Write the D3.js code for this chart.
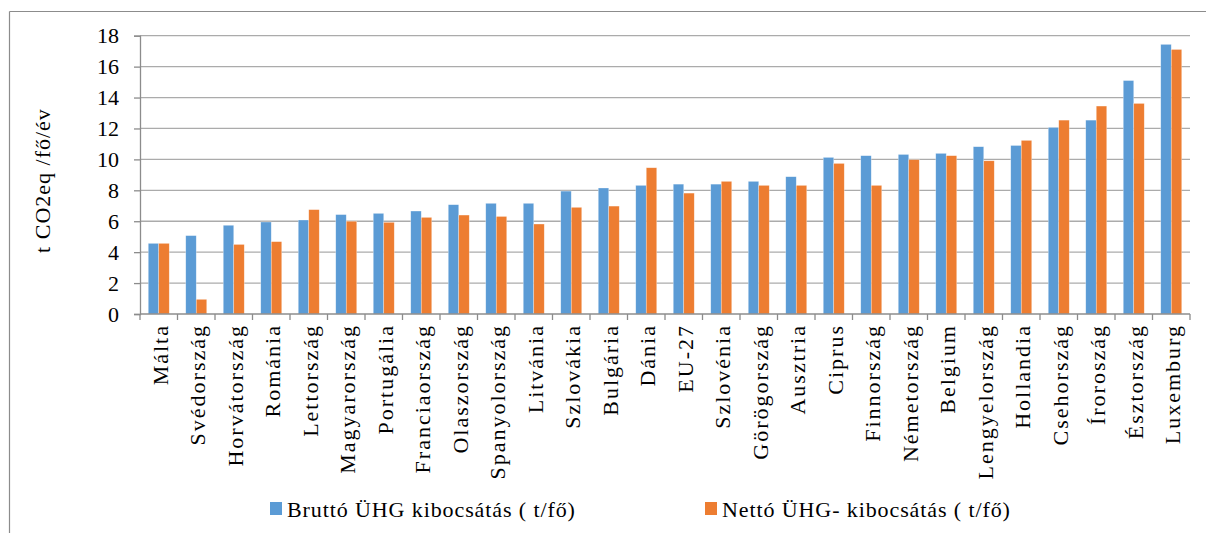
<!DOCTYPE html>
<html>
<head>
<meta charset="utf-8">
<script src="https://cdn.jsdelivr.net/npm/d3@7"></script>
<style>
  body { margin: 0; background: #fff; }
</style>
</head>
<body>
<div class="chart"></div>
<script>
// Values
const categories = ["Málta", "Svédország", "Horvátország", "Románia", "Lettország", "Magyarország",
  "Portugália", "Franciaország", "Olaszország", "Spanyolország", "Litvánia", "Szlovákia", "Bulgária",
  "Dánia", "EU-27", "Szlovénia", "Görögország", "Ausztria", "Ciprus", "Finnország", "Németország",
  "Belgium", "Lengyelország", "Hollandia", "Csehország", "Íroroszág", "Észtország", "Luxemburg"];
const brutto = [4.57, 5.07, 5.74, 5.95, 6.08, 6.43, 6.51, 6.66, 7.07, 7.16, 7.16, 7.95, 8.15,
  8.32, 8.4, 8.4, 8.58, 8.88, 10.13, 10.24, 10.32, 10.39, 10.82, 10.9, 12.07, 12.54, 15.1, 17.44];
const netto = [4.57, 0.95, 4.5, 4.68, 6.75, 6.0, 5.93, 6.25, 6.4, 6.31, 5.82, 6.9, 6.98,
  9.46, 7.82, 8.58, 8.32, 8.32, 9.74, 8.32, 9.98, 10.24, 9.91, 11.23, 12.54, 13.45, 13.62, 17.11];
const seriesNames = ["Bruttó ÜHG kibocsátás ( t/fő)", "Nettó ÜHG- kibocsátás ( t/fő)"];
const seriesColors = ["#5B9BD5", "#ED7D31"];
const yTicks = [0, 2, 4, 6, 8, 10, 12, 14, 16, 18];

const width = 1206, height = 533;
const margin = { left: 140, right: 16, top: 35.7, bottom: 219 };

const svg = d3.select(".chart").append("svg")
  .attr("width", width)
  .attr("height", height)
  .attr("font-family", "Liberation Serif");

// frame of the pasted chart (only left and top visible)
svg.append("line").attr("x1", 9.5).attr("x2", width).attr("y1", 11.5).attr("y2", 11.5)
  .attr("stroke", "#8c8c8c").attr("stroke-width", 1.2);
svg.append("line").attr("x1", 9.5).attr("x2", 9.5).attr("y1", 11.5).attr("y2", height)
  .attr("stroke", "#8c8c8c").attr("stroke-width", 1.2);

const x0 = d3.scaleBand()
  .domain(categories)
  .range([margin.left, width - margin.right])
  .paddingInner(0.44)
  .paddingOuter(0.22);

const x1 = d3.scaleBand()
  .domain([0, 1])
  .range([0, x0.bandwidth()]);

const y = d3.scaleLinear()
  .domain([0, 18])
  .range([height - margin.bottom, margin.top]);

// gridlines
svg.append("g")
  .selectAll("line")
  .data(yTicks.filter(d => d > 0))
  .join("line")
    .attr("x1", margin.left)
    .attr("x2", width - margin.right)
    .attr("y1", d => y(d))
    .attr("y2", d => y(d))
    .attr("stroke", "#ababab")
    .attr("stroke-width", 1.3);

// y axis
const yAxis = svg.append("g")
  .attr("transform", `translate(${margin.left},0)`)
  .call(d3.axisLeft(y).tickValues(yTicks).tickSize(6).tickPadding(15).tickFormat(d3.format("d")))
  .attr("font-family", "Liberation Serif")
  .attr("font-size", 22);
yAxis.select(".domain").attr("stroke", "#8c8c8c").attr("stroke-width", 1.3);
yAxis.selectAll(".tick line").attr("stroke", "#8c8c8c").attr("stroke-width", 1.3);
yAxis.selectAll(".tick text")
  .attr("fill", "#000")
  .attr("dy", "0.33em");

// bars
const groups = svg.append("g")
  .selectAll("g")
  .data(categories)
  .join("g")
    .attr("transform", d => `translate(${x0(d)},0)`);

groups.selectAll("rect")
  .data((d, i) => [brutto[i], netto[i]])
  .join("rect")
    .attr("x", (d, j) => x1(j))
    .attr("y", d => y(d))
    .attr("width", x1.bandwidth())
    .attr("height", d => y(0) - y(d))
    .attr("fill", (d, j) => seriesColors[j])
    .attr("stroke", "#ffffff")
    .attr("stroke-opacity", 0.5)
    .attr("stroke-width", 0.6);

// x axis with ticks at category boundaries
const step = x0.step();
const xAxisG = svg.append("g");
xAxisG.append("line")
  .attr("x1", margin.left).attr("x2", width - margin.right)
  .attr("y1", y(0)).attr("y2", y(0))
  .attr("stroke", "#8c8c8c").attr("stroke-width", 1.3);
xAxisG.selectAll(".bt")
  .data(d3.range(categories.length + 1))
  .join("line")
    .attr("class", "bt")
    .attr("x1", i => margin.left + i * step)
    .attr("x2", i => margin.left + i * step)
    .attr("y1", y(0))
    .attr("y2", y(0) + 6)
    .attr("stroke", "#8c8c8c").attr("stroke-width", 1.3);

// widen text the way the original renderer spaced its letters
function spread(sel, px) {
  sel.each(function() {
    const n = this.textContent.length;
    const w = this.getComputedTextLength();
    d3.select(this).attr("textLength", w + px * (n - 1)).attr("lengthAdjust", "spacing");
  });
}

xAxisG.selectAll(".cat")
  .data(categories)
  .join("text")
    .attr("class", "cat")
    .attr("transform", d => `translate(${x0(d) + x0.bandwidth() / 2},${y(0) + 12}) rotate(-90)`)
    .attr("text-anchor", "end")
    .attr("dy", "0.4em")
    .attr("font-size", 22)
    .text(d => d)
    .call(spread, 2);

// y axis title
svg.append("text")
  .attr("transform", `translate(50,181) rotate(-90)`)
  .attr("text-anchor", "middle")
  .attr("font-size", 22)
  .text("t CO2eq /fő/év")
  .call(spread, 1);

// legend
const legendX = [270, 705];
const legend = svg.append("g")
  .selectAll("g")
  .data(seriesNames)
  .join("g")
    .attr("transform", (d, i) => `translate(${legendX[i]},502)`);
legend.append("rect")
  .attr("width", 12).attr("height", 13)
  .attr("fill", (d, i) => seriesColors[i]);
legend.append("text")
  .attr("x", 17)
  .attr("y", 14.5)
  .attr("font-size", 22)
  .text(d => d)
  .call(spread, 0.9);
</script>
</body>
</html>
